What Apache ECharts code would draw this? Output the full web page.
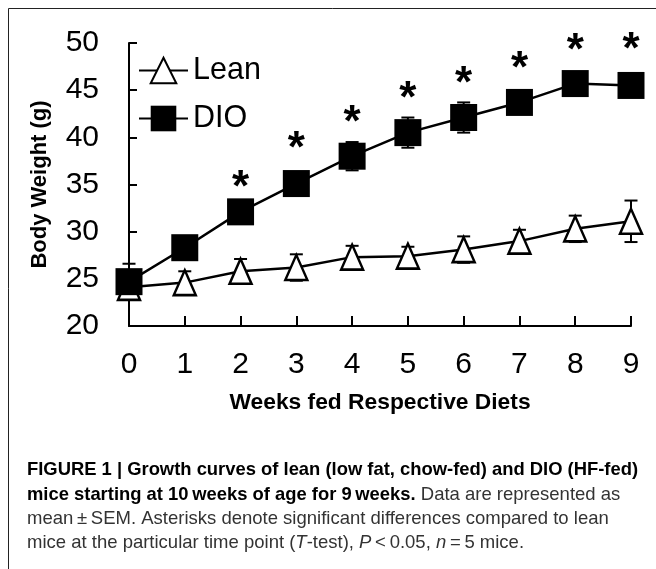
<!DOCTYPE html>
<html>
<head>
<meta charset="utf-8">
<script src="https://cdn.jsdelivr.net/npm/echarts@6/dist/echarts.min.js"></script>
<style>
html, body { margin: 0; padding: 0; background: #fff; }
#main { width: 656px; height: 569px; }
</style>
</head>
<body>
<div id="main"></div>
<script>
// weeks on the diet
var weeks = [0, 1, 2, 3, 4, 5, 6, 7, 8, 9];
// body weight (g), mean and SEM
var leanMean = [24.1, 24.6, 25.8, 26.2, 27.3, 27.4, 28.1, 29.0, 30.3, 31.1];
var leanSem  = [1.3, 1.2, 1.3, 1.4, 1.2, 1.0, 1.4, 1.2, 1.4, 2.2];
var dioMean  = [24.7, 28.3, 32.1, 35.1, 38.0, 40.5, 42.1, 43.7, 45.7, 45.5];
var dioSem   = [1.9, 1.0, 1.0, 1.0, 1.5, 1.6, 1.6, 1.2, 1.0, 1.0];
// height of the significance asterisks
var starY    = [null, null, 35.5, 39.7, 42.4, 45.0, 46.6, 48.2, 50.1, 50.15];
var yTicks   = [20, 25, 30, 35, 40, 45, 50];

var FONT = "'Liberation Sans', Arial, sans-serif";

function pairs(vals) {
    return weeks.map(function (w, i) { return [w, vals[i]]; });
}

// error bars as custom series, drawn under the markers
function errBars(mean, sem, z) {
    return {
        type: 'custom',
        z: z,
        silent: true,
        data: weeks.map(function (w, i) { return [w, mean[i], sem[i]]; }),
        renderItem: function (params, api) {
            var x = api.value(0), m = api.value(1), s = api.value(2);
            var hi = api.coord([x, m + s]);
            var lo = api.coord([x, m - s]);
            var cw = 6.5;
            var st = { stroke: '#000', lineWidth: 2 };
            return {
                type: 'group',
                children: [
                    { type: 'line', shape: { x1: hi[0], y1: hi[1], x2: lo[0], y2: lo[1] }, style: st },
                    { type: 'line', shape: { x1: hi[0] - cw, y1: hi[1], x2: hi[0] + cw, y2: hi[1] }, style: st },
                    { type: 'line', shape: { x1: lo[0] - cw, y1: lo[1], x2: lo[0] + cw, y2: lo[1] }, style: st }
                ]
            };
        }
    };
}

var capN = { fontSize: 18.5, fill: '#333', fontFamily: FONT };
var capB = { fontSize: 18.4, fontWeight: 'bold', fill: '#000', fontFamily: FONT };
var capI = { fontSize: 18.5, fill: '#333', fontStyle: 'italic', fontFamily: FONT };

var myChart = echarts.init(document.getElementById('main'));
myChart.setOption({
    animation: false,
    textStyle: { fontFamily: FONT },
    grid: { left: 129, right: 25, top: 43, bottom: 243 },
    legend: {
        data: ['Lean', 'DIO'],
        orient: 'vertical',
        left: 138,
        top: 55,
        padding: 0,
        itemWidth: 49,
        itemHeight: 32,
        itemGap: 17,
        textStyle: { fontSize: 30.5, color: '#000', fontFamily: FONT }
    },
    xAxis: {
        type: 'value',
        min: 0,
        max: 9,
        interval: 1,
        name: 'Weeks fed Respective Diets',
        nameLocation: 'middle',
        nameGap: 65,
        nameTextStyle: { fontSize: 22.8, fontWeight: 'bold', color: '#000', fontFamily: FONT },
        axisLine: { lineStyle: { color: '#000', width: 2 } },
        axisTick: { inside: true, length: 10, lineStyle: { color: '#000', width: 2 } },
        axisLabel: { fontSize: 30, color: '#000', margin: 24, fontFamily: FONT },
        splitLine: { show: false }
    },
    yAxis: {
        type: 'value',
        min: yTicks[0],
        max: yTicks[yTicks.length - 1],
        interval: yTicks[1] - yTicks[0],
        name: 'Body Weight (g)',
        nameLocation: 'middle',
        nameGap: 78,
        nameTextStyle: { fontSize: 22, fontWeight: 'bold', color: '#000', fontFamily: FONT },
        axisLine: { show: true, lineStyle: { color: '#000', width: 2 } },
        axisTick: { show: true, inside: true, length: 8, lineStyle: { color: '#000', width: 2 } },
        axisLabel: { fontSize: 30, color: '#000', margin: 30, fontFamily: FONT },
        splitLine: { show: false }
    },
    series: [
        errBars(leanMean, leanSem, 1),
        errBars(dioMean, dioSem, 2),
        {
            name: 'Lean',
            type: 'line',
            z: 3,
            data: pairs(leanMean),
            symbol: 'triangle',
            symbolSize: [22, 25],
            lineStyle: { color: '#000', width: 2.5 },
            itemStyle: { color: '#fff', borderColor: '#000', borderWidth: 2.5 }
        },
        {
            name: 'DIO',
            type: 'line',
            z: 4,
            data: pairs(dioMean),
            symbol: 'rect',
            symbolSize: 27,
            lineStyle: { color: '#000', width: 2.5 },
            itemStyle: { color: '#000', borderColor: '#000', borderWidth: 0 }
        },
        {
            type: 'custom',
            z: 5,
            silent: true,
            data: pairs(starY).filter(function (d) { return d[1] != null; }),
            renderItem: function (params, api) {
                var c = api.coord([api.value(0), api.value(1)]);
                return {
                    type: 'text',
                    x: c[0],
                    y: c[1] + 9.5,
                    style: {
                        text: '*',
                        fontSize: 44,
                        fontWeight: 'bold',
                        fontFamily: FONT,
                        align: 'center',
                        verticalAlign: 'middle',
                        fill: '#000'
                    }
                };
            }
        }
    ],
    graphic: [
        {
            type: 'polyline',
            silent: true,
            shape: { points: [[8.5, 569], [8.5, 8.5], [656, 8.5]] },
            style: { stroke: '#222', lineWidth: 1, fill: null }
        },
        {
            type: 'text', x: 27, y: 470,
            style: {
                text: '{b|FIGURE 1 | Growth curves of lean (low fat, chow-fed) and DIO (HF-fed)}',
                verticalAlign: 'middle',
                rich: { b: capB }
            }
        },
        {
            type: 'text', x: 27, y: 495,
            style: {
                text: '{b|mice starting at 10\u2009weeks of age for 9\u2009weeks.}{n| Data are represented as}',
                verticalAlign: 'middle',
                rich: { b: capB, n: capN }
            }
        },
        {
            type: 'text', x: 27, y: 519,
            style: {
                text: '{n|mean\u2009\u00b1\u2009SEM. Asterisks denote significant differences compared to lean}',
                verticalAlign: 'middle',
                rich: { n: capN }
            }
        },
        {
            type: 'text', x: 27, y: 543,
            style: {
                text: '{n|mice at the particular time point (}{i|T}{n|-test), }{i|P}{n|\u2009<\u20090.05, }{i|n}{n|\u2009=\u20095 mice.}',
                verticalAlign: 'middle',
                rich: { n: capN, i: capI }
            }
        }
    ]
});
</script>
</body>
</html>
